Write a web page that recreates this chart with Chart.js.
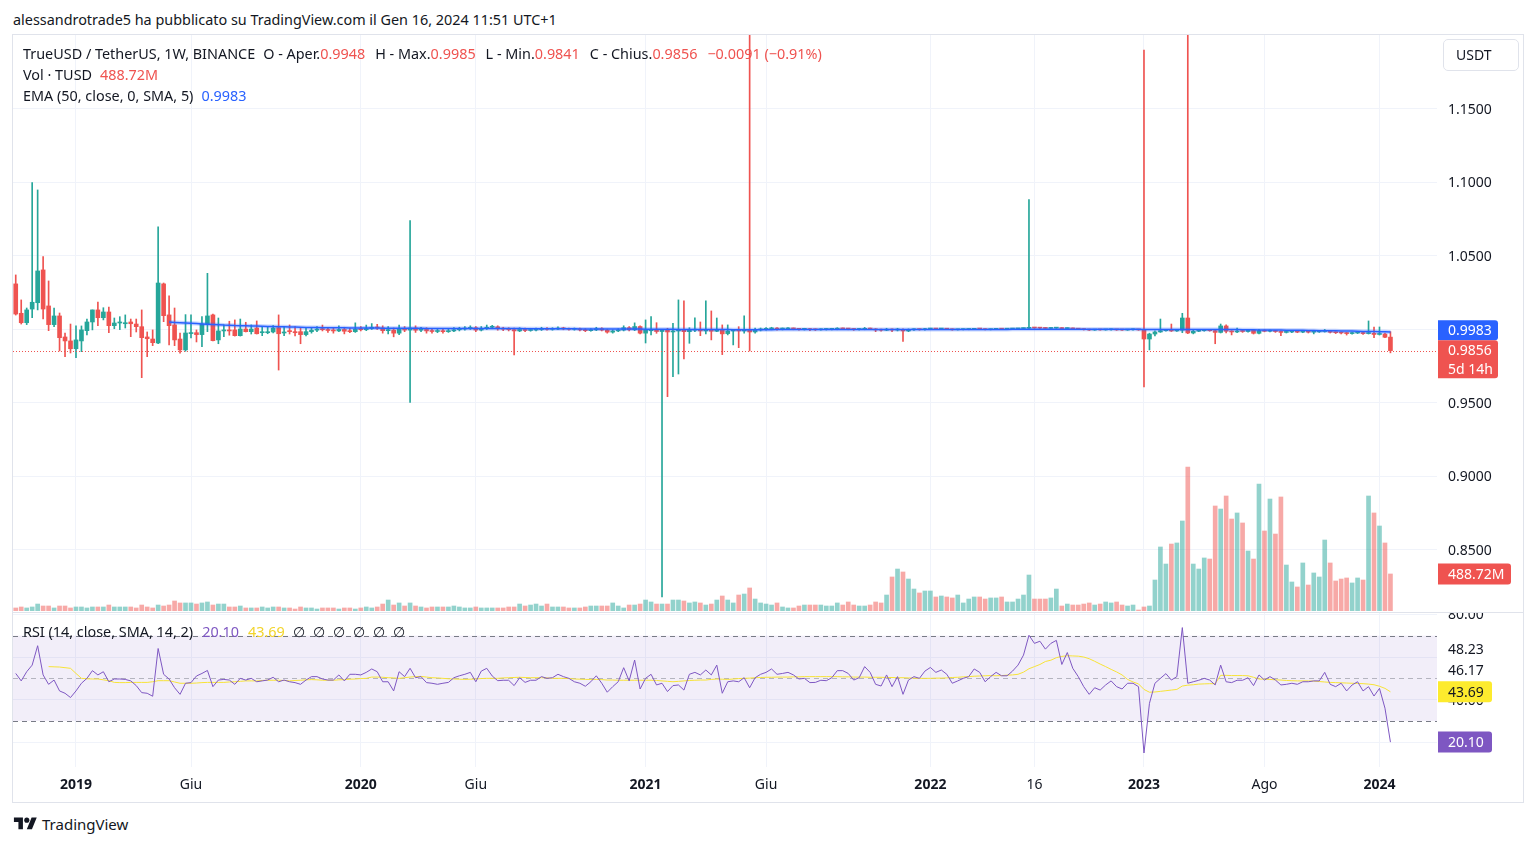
<!DOCTYPE html>
<html lang="it">
<head>
<meta charset="utf-8">
<title>TrueUSD / TetherUS 1W</title>
<script src="https://cdn.jsdelivr.net/npm/chart.js@4.4.1/dist/chart.umd.min.js"></script>
<style>
  html,body{margin:0;padding:0;background:#fff;}
  body{width:1536px;height:846px;position:relative;overflow:hidden;font-family:"Noto Sans",Roboto,Arial,sans-serif;color:#131722;}
  .abs{position:absolute;white-space:nowrap;}
  #hdr{left:13px;top:10px;font-size:14.4px;line-height:19px;}
  #frame{position:absolute;left:12px;top:34px;width:1510px;height:767px;border:1px solid #e0e3eb;}
  #sep{position:absolute;left:13px;top:612px;width:1510px;height:1px;background:#e0e3eb;}
  .leg{left:23px;font-size:14.4px;line-height:19px;}
  .k{margin-left:10px;}
  .r{color:#ef5350;}
  .b{color:#2962ff;}
  .p{color:#7e57c2;}
  .y{color:#f2d42b;}
  #usdt{position:absolute;left:1443px;top:39px;width:62px;height:30px;padding-left:12px;border:1px solid #e0e3eb;border-radius:5px;font-size:14px;line-height:30px;text-align:left;}
  canvas{position:absolute;}
  #logo{left:13px;top:814px;font-size:15px;line-height:20px;display:flex;align-items:center;}
</style>
</head>
<body>
<div id="hdr" class="abs">alessandrotrade5 ha pubblicato su TradingView.com il Gen 16, 2024 11:51 UTC+1</div>
<div id="frame"></div>
<canvas id="main" width="1510" height="576" style="left:13px;top:35px;width:1510px;height:576px"></canvas>
<div id="sep"></div>
<canvas id="rsi" width="1510" height="189" style="left:13px;top:613px;width:1510px;height:189px"></canvas>
<div id="l1" class="abs leg" style="top:44px"></div>
<div id="l2" class="abs leg" style="top:65px"></div>
<div id="l3" class="abs leg" style="top:86px"></div>
<div id="l4" class="abs leg" style="top:622px"></div>
<div id="usdt">USDT</div>
<div id="logo" class="abs"><svg width="25" height="18" viewBox="0 0 36 28"><path d="M14 22H7V11H0V4h14v18zM28 22h-8l7.5-18h8L28 22z" fill="#131722"/><circle cx="20" cy="8" r="4" fill="#131722"/></svg><span style="margin-left:4px">TradingView</span></div>
<script>
// ---------------- DATA ----------------
const OPEN = [
1.0310,1.0110,1.0046,1.0139,1.0182,1.0405,1.0160,1.0033,1.0092,0.9949,
0.9922,0.9869,0.9922,0.9992,1.0051,1.0133,1.0080,1.0119,1.0026,1.0044,
1.0039,1.0051,1.0037,1.0019,0.9949,0.9935,0.9908,1.0310,1.0099,1.0031,
0.9935,0.9861,0.9972,0.9978,0.9965,1.0037,1.0099,0.9929,0.9990,0.9997,
0.9997,0.9958,1.0003,0.9985,1.0010,0.9978,0.9978,0.9983,1.0012,0.9976,
0.9992,0.9985,0.9985,0.9965,0.9985,0.9995,1.0003,0.9998,0.9993,0.9990,
1.0000,0.9988,0.9985,1.0002,0.9998,1.0006,1.0015,1.0010,0.9992,0.9996,
0.9975,1.0005,0.9996,1.0010,0.9995,1.0000,0.9990,0.9986,0.9990,0.9985,
0.9990,0.9998,1.0003,1.0007,1.0012,0.9996,1.0008,1.0015,1.0018,1.0005,
1.0002,0.9999,0.9990,1.0000,0.9993,0.9996,0.9999,1.0004,1.0001,1.0003,
1.0008,1.0004,1.0001,1.0003,0.9997,0.9992,0.9997,1.0005,0.9996,0.9982,
0.9990,0.9996,1.0012,0.9998,1.0020,0.9975,0.9992,0.9997,0.9986,0.9995,
0.9983,0.9990,0.9997,0.9985,0.9995,0.9999,0.9990,0.9997,0.9988,1.0001,
0.9972,0.9990,0.9997,0.9990,0.9995,0.9983,0.9997,1.0001,1.0004,1.0007,
1.0003,1.0004,1.0006,1.0004,1.0001,1.0002,0.9999,0.9998,1.0000,1.0001,
1.0002,1.0005,1.0004,1.0003,1.0000,1.0001,1.0006,1.0003,0.9997,0.9995,
1.0001,0.9996,1.0001,0.9990,0.9998,1.0000,0.9999,1.0003,1.0005,1.0003,
1.0004,1.0002,0.9998,0.9999,1.0000,1.0001,1.0004,1.0003,0.9999,1.0001,
1.0003,1.0002,1.0003,1.0004,1.0006,1.0008,1.0011,1.0010,1.0009,1.0007,
1.0009,1.0011,1.0006,1.0008,1.0004,1.0002,0.9999,0.9996,0.9998,0.9997,
0.9998,0.9999,0.9997,0.9996,0.9998,0.9999,0.9997,0.9935,0.9969,0.9983,
0.9992,0.9995,0.9990,0.9995,1.0078,0.9976,0.9988,0.9992,0.9995,0.9992,
0.9980,1.0024,0.9988,0.9983,0.9990,0.9986,0.9994,0.9974,0.9993,0.9988,
0.9991,0.9986,0.9980,0.9983,0.9985,0.9982,0.9985,0.9982,0.9984,0.9986,
0.9990,0.9981,0.9978,0.9976,0.9972,0.9976,0.9979,0.9972,0.9974,0.9966,
0.9969,0.9948];
const HIGH = [
1.0371,1.0201,1.0146,1.0999,1.0949,1.0495,1.0330,1.0146,1.0112,0.9976,
1.0037,1.0024,1.0024,1.0071,1.0133,1.0187,1.0148,1.0153,1.0078,1.0087,
1.0099,1.0071,1.0071,1.0133,0.9983,0.9997,1.0699,1.0316,1.0228,1.0146,
0.9976,1.0101,1.0099,0.9997,1.0087,1.0382,1.0105,1.0078,1.0031,1.0056,
1.0065,1.0071,1.0049,1.0031,1.0058,1.0019,1.0019,1.0026,1.0099,1.0019,
1.0031,1.0019,1.0012,1.0008,1.0010,1.0020,1.0030,1.0012,1.0008,1.0025,
1.0015,1.0010,1.0045,1.0020,1.0030,1.0040,1.0035,1.0025,1.0020,1.0010,
1.0030,1.0020,1.0741,1.0025,1.0015,1.0012,1.0005,1.0005,1.0002,1.0005,
1.0012,1.0015,1.0020,1.0025,1.0020,1.0020,1.0030,1.0028,1.0025,1.0015,
1.0012,1.0010,1.0012,1.0010,1.0008,1.0010,1.0015,1.0012,1.0012,1.0018,
1.0015,1.0010,1.0010,1.0010,1.0005,1.0005,1.0015,1.0012,1.0002,0.9998,
1.0005,1.0025,1.0020,1.0045,1.0024,1.0065,1.0087,1.0046,1.0001,1.0008,
1.0042,1.0201,1.0194,1.0012,1.0080,1.0051,1.0194,1.0126,1.0078,1.0031,
1.0031,1.0001,1.0019,1.0092,1.2100,1.0010,1.0010,1.0012,1.0015,1.0012,
1.0010,1.0012,1.0010,1.0008,1.0008,1.0006,1.0004,1.0005,1.0006,1.0008,
1.0012,1.0010,1.0008,1.0006,1.0006,1.0014,1.0010,1.0006,1.0003,1.0008,
1.0005,1.0008,1.0005,1.0004,1.0005,1.0004,1.0008,1.0008,1.0007,1.0007,
1.0006,1.0004,1.0002,1.0003,1.0003,1.0006,1.0006,1.0005,1.0003,1.0005,
1.0005,1.0005,1.0006,1.0008,1.0010,1.0884,1.0014,1.0013,1.0012,1.0012,
1.0014,1.0013,1.0011,1.0010,1.0007,1.0004,1.0002,1.0000,1.0000,1.0001,
1.0002,1.0001,1.0000,1.0001,1.0002,1.0001,1.1901,0.9975,0.9990,1.0071,
0.9999,1.0037,1.0001,1.0110,1.2100,0.9995,0.9997,1.0000,0.9999,0.9996,
1.0037,1.0031,0.9992,1.0010,0.9994,0.9999,0.9999,1.0001,0.9998,0.9996,
0.9994,0.9990,0.9988,0.9990,0.9989,0.9990,0.9988,0.9988,0.9990,1.0000,
0.9993,0.9985,0.9983,0.9980,0.9982,0.9985,0.9982,1.0058,1.0017,1.0017,
0.9975,0.9985];
const LOW = [
1.0098,1.0037,1.0033,1.0080,1.0133,1.0071,0.9992,1.0019,0.9854,0.9815,
0.9840,0.9808,0.9849,0.9963,0.9997,1.0026,1.0065,0.9978,1.0005,0.9999,
1.0010,0.9951,0.9983,0.9672,0.9815,0.9890,0.9903,1.0053,0.9895,0.9890,
0.9838,0.9852,0.9942,0.9915,0.9883,0.9985,0.9922,0.9903,0.9951,0.9961,
0.9955,0.9955,0.9983,0.9969,0.9969,0.9958,0.9971,0.9976,0.9724,0.9958,
0.9969,0.9956,0.9903,0.9956,0.9975,0.9985,0.9990,0.9980,0.9975,0.9985,
0.9970,0.9978,0.9980,0.9990,0.9992,1.0000,1.0000,0.9975,0.9970,0.9950,
0.9965,0.9985,0.9503,0.9980,0.9985,0.9975,0.9975,0.9978,0.9975,0.9980,
0.9985,0.9990,0.9995,1.0000,0.9985,0.9990,1.0000,1.0005,0.9995,0.9992,
0.9990,0.9827,0.9985,0.9985,0.9988,0.9990,0.9993,0.9995,0.9995,0.9998,
0.9998,0.9995,0.9995,0.9990,0.9985,0.9988,0.9992,0.9990,0.9975,0.9975,
0.9985,0.9990,0.9990,0.9992,0.9969,0.9908,0.9963,0.9974,0.8180,0.9543,
0.9679,0.9697,0.9799,0.9906,0.9985,0.9958,0.9969,0.9929,0.9985,0.9829,
0.9963,0.9895,0.9876,0.9974,0.9854,0.9975,0.9990,0.9995,0.9998,0.9995,
0.9997,1.0000,0.9998,0.9995,0.9996,0.9992,0.9993,0.9995,0.9996,0.9997,
0.9998,1.0000,0.9998,0.9994,0.9996,0.9998,0.9998,0.9985,0.9988,0.9992,
0.9985,0.9990,0.9918,0.9985,0.9994,0.9995,0.9996,1.0000,1.0000,1.0001,
0.9999,0.9995,0.9996,0.9997,0.9998,0.9999,1.0000,0.9997,0.9997,0.9999,
1.0000,1.0000,1.0001,1.0002,1.0004,1.0005,1.0007,1.0006,1.0004,1.0005,
1.0007,1.0003,1.0004,1.0002,0.9999,0.9996,0.9993,0.9994,0.9995,0.9995,
0.9996,0.9994,0.9993,0.9994,0.9996,0.9994,0.9609,0.9861,0.9956,0.9980,
0.9988,0.9986,0.9986,0.9978,0.9972,0.9970,0.9985,0.9988,0.9988,0.9903,
0.9976,0.9976,0.9963,0.9978,0.9980,0.9982,0.9969,0.9970,0.9984,0.9984,
0.9980,0.9958,0.9976,0.9979,0.9978,0.9978,0.9976,0.9970,0.9980,0.9982,
0.9976,0.9972,0.9970,0.9962,0.9968,0.9972,0.9966,0.9969,0.9944,0.9962,
0.9944,0.9841];
const CLOSE = [
1.0105,1.0046,1.0133,1.0185,1.0398,1.0139,1.0033,1.0092,0.9944,0.9922,
0.9869,0.9929,0.9997,1.0051,1.0133,1.0080,1.0119,1.0026,1.0044,1.0051,
1.0046,1.0039,1.0019,0.9944,0.9937,0.9910,1.0316,1.0094,1.0026,0.9929,
0.9861,0.9976,0.9976,0.9965,1.0037,1.0092,0.9924,0.9990,0.9997,0.9990,
0.9958,1.0003,0.9985,1.0003,0.9971,0.9983,0.9983,1.0010,0.9971,0.9983,
0.9985,0.9978,0.9965,0.9985,0.9995,1.0003,0.9998,0.9993,0.9990,1.0000,
0.9988,0.9985,1.0002,0.9998,1.0006,1.0015,1.0010,0.9992,0.9996,0.9975,
1.0005,0.9996,1.0010,0.9995,1.0000,0.9990,0.9986,0.9990,0.9985,0.9990,
0.9998,1.0003,1.0007,1.0012,0.9996,1.0008,1.0015,1.0018,1.0005,1.0002,
0.9999,0.9990,1.0000,0.9993,0.9996,0.9999,1.0004,1.0001,1.0003,1.0008,
1.0004,1.0001,1.0003,0.9997,0.9992,0.9997,1.0005,0.9996,0.9982,0.9990,
0.9996,1.0012,0.9998,1.0020,0.9975,0.9995,0.9997,0.9986,0.9995,0.9983,
0.9990,0.9997,0.9985,0.9995,0.9999,0.9990,0.9997,0.9988,0.9997,0.9970,
0.9990,0.9997,0.9990,0.9995,0.9983,0.9997,1.0001,1.0004,1.0007,1.0003,
1.0004,1.0006,1.0004,1.0001,1.0002,0.9999,0.9998,1.0000,1.0001,1.0002,
1.0005,1.0004,1.0003,1.0000,1.0001,1.0006,1.0003,0.9997,0.9995,1.0001,
0.9996,1.0001,0.9990,0.9998,1.0000,0.9999,1.0003,1.0005,1.0003,1.0004,
1.0002,0.9998,0.9999,1.0000,1.0001,1.0004,1.0003,0.9999,1.0001,1.0003,
1.0002,1.0003,1.0004,1.0006,1.0008,1.0011,1.0010,1.0009,1.0007,1.0009,
1.0011,1.0006,1.0008,1.0004,1.0002,0.9999,0.9996,0.9998,0.9997,0.9998,
0.9999,0.9997,0.9996,0.9998,0.9999,0.9997,0.9935,0.9969,0.9983,0.9992,
0.9995,0.9990,0.9995,1.0078,0.9976,0.9988,0.9992,0.9995,0.9992,0.9980,
1.0024,0.9988,0.9983,0.9990,0.9986,0.9994,0.9974,0.9993,0.9988,0.9991,
0.9986,0.9980,0.9983,0.9985,0.9982,0.9985,0.9982,0.9984,0.9986,0.9990,
0.9981,0.9978,0.9976,0.9972,0.9976,0.9979,0.9972,0.9974,0.9966,0.9969,
0.9947,0.9856];
// weekly volume, millions of TUSD
const VOLUME = [
40,53,40,53,92,66,66,40,66,66,
40,53,53,40,53,53,53,79,53,53,
53,53,40,79,53,40,79,66,79,132,
106,106,106,92,106,119,79,92,92,53,
53,66,40,40,40,53,40,53,53,40,
40,26,53,40,40,26,40,40,40,26,
40,40,26,40,53,40,53,92,145,79,
106,66,106,66,53,40,53,53,53,53,
66,53,40,40,53,40,40,40,40,40,
53,53,92,66,79,92,66,92,53,53,
53,40,40,40,53,66,66,66,66,106,
66,40,79,79,92,145,119,92,92,92,
145,145,132,106,119,106,79,92,145,198,
145,106,211,224,304,158,106,92,79,106,
53,40,40,66,79,79,79,79,66,66,
106,79,119,79,66,66,79,119,106,211,
449,554,515,422,290,238,264,264,185,198,
185,172,211,106,158,185,185,158,172,172,
185,119,119,158,211,475,158,158,158,172,
290,66,92,79,79,92,106,79,92,119,
106,119,79,66,79,13,53,66,409,845,
620,884,898,1188,1901,620,554,700,686,1386,
1346,1518,1214,1294,1162,792,686,1676,1056,1478,
1016,1505,607,383,317,634,343,502,449,937,
634,396,422,436,370,436,409,1518,1294,1122,
898,488.72];
const EMA = [
null,null,null,null,null,null,null,null,null,null,
null,null,null,null,null,null,null,null,null,null,
null,null,null,null,null,null,null,null,1.0050,1.0048,
1.0046,1.0044,1.0042,1.0040,1.0038,1.0036,1.0034,1.0032,1.0030,1.0029,
1.0027,1.0026,1.0025,1.0024,1.0023,1.0022,1.0021,1.0020,1.0019,1.0018,
1.0017,1.0016,1.0015,1.0014,1.0013,1.0013,1.0012,1.0012,1.0011,1.0011,
1.0011,1.0010,1.0010,1.0010,1.0010,1.0010,1.0010,1.0009,1.0009,1.0009,
1.0008,1.0008,1.0008,1.0008,1.0008,1.0007,1.0007,1.0007,1.0006,1.0006,
1.0006,1.0006,1.0006,1.0006,1.0006,1.0006,1.0006,1.0007,1.0007,1.0007,
1.0006,1.0006,1.0006,1.0005,1.0005,1.0005,1.0005,1.0005,1.0005,1.0005,
1.0005,1.0005,1.0005,1.0004,1.0004,1.0004,1.0004,1.0004,1.0003,1.0003,
1.0003,1.0003,1.0003,1.0003,1.0003,1.0002,1.0002,1.0002,1.0001,1.0001,
1.0001,1.0000,1.0000,1.0000,1.0000,1.0000,0.9999,0.9999,0.9999,0.9999,
0.9999,0.9998,0.9998,0.9998,0.9998,0.9998,0.9998,0.9998,0.9998,0.9999,
0.9999,0.9999,0.9999,0.9999,0.9999,0.9999,0.9999,0.9999,0.9999,0.9999,
1.0000,1.0000,1.0000,1.0000,1.0000,1.0000,1.0000,1.0000,1.0000,1.0000,
1.0000,1.0000,0.9999,0.9999,0.9999,0.9999,0.9999,1.0000,1.0000,1.0000,
1.0000,1.0000,1.0000,1.0000,1.0000,1.0000,1.0000,1.0000,1.0000,1.0000,
1.0000,1.0000,1.0001,1.0001,1.0001,1.0001,1.0001,1.0002,1.0002,1.0002,
1.0002,1.0002,1.0002,1.0002,1.0002,1.0002,1.0002,1.0001,1.0001,1.0001,
1.0001,1.0001,1.0001,1.0001,1.0001,1.0001,1.0000,1.0000,0.9999,0.9999,
0.9999,0.9999,0.9999,1.0000,1.0000,1.0000,1.0000,1.0000,1.0000,0.9999,
1.0000,0.9999,0.9999,0.9999,0.9998,0.9998,0.9998,0.9997,0.9997,0.9997,
0.9996,0.9996,0.9995,0.9995,0.9994,0.9994,0.9993,0.9993,0.9992,0.9992,
0.9991,0.9991,0.9990,0.9989,0.9989,0.9988,0.9987,0.9986,0.9986,0.9985,
0.9984,0.9983];
const RSI = [
52.3,48.8,53.1,56.2,65.3,51.6,47.2,49.2,44.1,43.0,
41.0,44.1,47.7,50.0,53.6,51.6,53.1,48.4,49.7,49.7,
49.5,48.8,46.6,43.3,43.0,41.6,64.0,51.9,49.7,45.6,
42.5,47.7,48.0,51.1,52.3,53.7,46.1,49.2,49.5,49.2,
47.2,50.0,49.2,50.0,48.4,48.8,49.2,50.5,48.4,49.2,
48.4,48.0,47.2,49.2,50.8,50.8,49.7,49.2,49.2,51.6,
48.8,51.9,51.9,51.6,52.8,54.4,53.1,48.4,48.4,44.1,
53.1,50.8,54.7,50.3,50.8,48.0,47.7,47.2,47.7,48.1,
50.3,51.2,51.9,52.8,48.4,53.4,54.7,51.1,48.9,49.1,
49.1,46.6,50.3,48.1,49.1,49.1,50.8,50.0,50.3,51.9,
50.8,50.0,48.4,47.7,46.3,48.4,51.2,47.7,43.5,46.1,
48.4,55.0,48.8,58.6,45.0,50.0,51.9,46.9,47.7,43.8,
46.6,46.9,44.5,51.9,52.8,51.6,53.9,51.6,56.2,43.0,
48.4,48.8,48.4,50.3,45.6,50.3,51.9,52.8,54.4,51.9,
52.3,52.8,51.6,49.7,50.0,48.0,48.1,49.1,48.9,50.3,
53.6,53.6,52.3,49.2,50.3,55.5,52.8,47.2,46.4,51.6,
46.1,50.8,42.5,49.2,50.8,50.0,53.4,55.1,52.8,53.9,
51.9,47.7,48.8,50.0,50.8,54.4,52.8,48.4,50.8,52.8,
51.2,51.2,53.4,56.2,60.9,70.2,66.4,67.4,63.7,66.4,
67.8,56.5,62.1,54.7,50.8,46.1,42.5,45.6,44.5,46.9,
48.8,46.1,45.0,47.7,47.7,46.1,15.0,38.3,47.7,50.0,
52.2,49.2,50.8,73.8,47.7,48.4,49.1,50.0,49.2,46.9,
56.2,48.4,48.0,49.1,49.1,50.3,46.6,51.6,49.2,50.8,
49.2,46.9,47.2,47.7,47.2,48.4,48.4,48.8,48.8,52.8,
47.2,46.1,47.7,44.1,46.9,48.4,44.1,46.1,41.7,45.3,
36.0,20.10];
const RSI_MA = [
null,null,null,null,null,null,55.5,55.4,55.3,55.0,
54.7,52.3,50.0,49.8,49.7,49.7,49.3,48.9,48.1,48.0,
48.0,48.1,48.1,48.1,48.1,48.4,48.9,48.9,48.9,48.3,
47.7,47.7,47.7,47.8,48.0,48.1,48.1,48.1,48.1,48.3,
48.4,48.6,48.8,48.8,48.8,49.0,49.1,49.1,49.1,49.0,
48.8,49.0,49.1,49.3,49.4,49.3,49.1,49.1,49.1,49.3,
49.4,49.6,49.7,49.9,50.0,50.6,50.6,50.5,50.3,50.2,
50.0,50.3,50.6,50.8,50.9,50.6,50.3,50.2,50.0,49.8,
49.7,49.6,49.5,49.6,49.7,49.9,50.0,50.0,50.0,50.2,
50.3,50.4,50.5,50.4,50.3,50.3,50.3,50.2,50.0,50.0,
50.0,49.9,49.7,49.6,49.5,49.5,49.5,49.4,49.2,49.2,
49.1,49.1,49.1,49.1,49.1,49.1,49.1,49.0,48.8,48.6,
48.4,48.6,48.8,49.0,49.1,49.2,49.2,49.5,49.7,49.6,
49.5,49.7,49.9,50.0,50.1,50.3,50.4,50.5,50.5,50.6,
50.6,50.6,50.7,50.7,50.8,50.8,50.8,50.8,50.8,50.8,
50.8,50.7,50.7,50.6,50.6,50.6,50.5,50.5,50.5,50.4,
50.4,50.3,50.3,50.2,50.1,50.0,50.0,50.0,50.1,50.1,
50.2,50.4,50.5,50.7,50.8,51.0,51.1,51.2,51.3,51.2,
51.3,51.5,51.6,51.9,52.9,54.5,55.5,56.5,57.9,58.5,
59.7,60.3,60.6,60.5,60.4,60.0,59.2,58.0,56.7,55.5,
54.2,53.0,51.6,49.5,48.3,47.4,44.8,43.5,43.6,43.9,
44.2,44.5,44.8,46.4,46.8,47.0,47.3,47.4,47.5,47.5,
51.4,51.4,51.3,51.3,51.3,51.2,50.5,49.7,49.6,49.5,
49.3,49.2,49.0,48.9,48.8,48.8,48.8,48.7,48.5,48.3,
48.1,48.0,47.9,47.8,47.7,47.6,47.5,47.3,47.0,46.3,
45.3,43.69];
const PRICE_TICKS = [0.85, 0.90, 0.95, 1.00, 1.05, 1.10, 1.15];
const RSI_TICKS = [20, 40, 60, 80];
const RSI_LEVELS = [70, 50, 30];
const TIME_INDEX = [11, 32, 63, 84, 115, 137, 167, 186, 206, 228, 249];
const TIME_TEXT  = ['2019','Giu','2020','Giu','2021','Giu','2022','16','2023','Ago','2024'];
const SLOTS = 260; // visible bar slots (incl. empty right margin)

// ---------------- SETUP ----------------
const FONT = '"Noto Sans", Roboto, Arial, sans-serif';
Chart.defaults.font.family = FONT;
const N = CLOSE.length, L = N - 1;
const cats = Array.from({length: SLOTS}, (_, i) => String(i));
const UP = '#26a69a', DN = '#ef5350';
const isUp = CLOSE.map((c, i) => c >= OPEN[i]);
const candleCol = isUp.map(u => u ? UP : DN);
const volCol = isUp.map(u => u ? 'rgba(38,166,154,0.5)' : 'rgba(239,83,80,0.5)');
const gridCol = '#f0f3fa';
const xGrid = c => TIME_INDEX.includes(c.index) ? gridCol : 'rgba(0,0,0,0)';
const TY = 1; // text vertical nudge for canvas labels

// legends
const f4 = v => v.toFixed(4);
const chg = CLOSE[L] - CLOSE[L - 1];
const sgn = v => (v < 0 ? '\u2212' : '+');
document.getElementById('l1').innerHTML =
  'TrueUSD / TetherUS, 1W, BINANCE' +
  '<span class="k" style="margin-left:8px">O - Aper.</span><span class="r">' + f4(OPEN[L]) + '</span>' +
  '<span class="k">H - Max.</span><span class="r">' + f4(HIGH[L]) + '</span>' +
  '<span class="k">L - Min.</span><span class="r">' + f4(LOW[L]) + '</span>' +
  '<span class="k">C - Chius.</span><span class="r">' + f4(CLOSE[L]) + '</span>' +
  '<span class="k r">' + sgn(chg) + Math.abs(chg).toFixed(4) + ' (' + sgn(chg) + Math.abs(chg / CLOSE[L - 1] * 100).toFixed(2) + '%)</span>';
document.getElementById('l2').innerHTML = 'Vol \u00b7 TUSD<span class="r" style="margin-left:8px">' + VOLUME[L].toFixed(2) + 'M</span>';
document.getElementById('l3').innerHTML = 'EMA (50, close, 0, SMA, 5)<span class="b" style="margin-left:8px">' + f4(EMA[L]) + '</span>';
document.getElementById('l4').innerHTML = 'RSI (14, close, SMA, 14, 2)<span class="p" style="margin-left:9px">' + RSI[L].toFixed(2) + '</span>' +
  '<span class="y" style="margin-left:9px">' + RSI_MA[L].toFixed(2) + '</span>' +
  '<span style="margin-left:8px">\u2205</span>' +
  '<span style="margin-left:8px">\u2205</span>'.repeat(5);

function tag(ctx, x, yc, w, h, bg, fg, lines) {
  ctx.save();
  ctx.fillStyle = bg;
  ctx.beginPath();
  if (ctx.roundRect) ctx.roundRect(x, yc - h / 2, w, h, [0, 3, 3, 0]); else ctx.rect(x, yc - h / 2, w, h);
  ctx.fill();
  ctx.fillStyle = fg;
  ctx.font = '14px ' + FONT;
  ctx.textBaseline = 'middle';
  ctx.textAlign = 'left';
  const lh = h / lines.length;
  lines.forEach((t, k) => ctx.fillText(t, x + 10, yc - h / 2 + lh * (k + 0.5) + TY));
  ctx.restore();
}

const mainPlugin = {
  id: 'mainDeco',
  afterDatasetsDraw(chart) {
    const ctx = chart.ctx, ca = chart.chartArea, ys = chart.scales.y;
    const py = Math.round(ys.getPixelForValue(CLOSE[L])) + 0.5;
    ctx.save();
    ctx.strokeStyle = DN; ctx.lineWidth = 1; ctx.setLineDash([1, 2]);
    ctx.beginPath(); ctx.moveTo(ca.left, py); ctx.lineTo(ca.right, py); ctx.stroke();
    ctx.restore();
  },
  afterDraw(chart) {
    const ctx = chart.ctx, ca = chart.chartArea, ys = chart.scales.y, yv = chart.scales.yv;
    ctx.save();
    ctx.font = '14px ' + FONT; ctx.fillStyle = '#131722';
    ctx.textBaseline = 'middle'; ctx.textAlign = 'left';
    PRICE_TICKS.forEach(v => ctx.fillText(f4(v), ca.right + 11, ys.getPixelForValue(v) + TY));
    ctx.restore();
    const yPrice = ys.getPixelForValue(CLOSE[L]);
    const redTop = yPrice - 10.5;
    const yEma = Math.min(ys.getPixelForValue(EMA[L]), redTop - 10);
    tag(ctx, ca.right + 1, yEma, 60, 20, '#2962ff', '#fff', [f4(EMA[L])]);
    tag(ctx, ca.right + 1, redTop + 19, 60, 38, DN, '#fff', [f4(CLOSE[L]), '5d 14h']);
    tag(ctx, ca.right + 1, yv.getPixelForValue(VOLUME[L]), 73, 21, DN, '#fff', [VOLUME[L].toFixed(2) + 'M']);
  }
};

new Chart(document.getElementById('main'), {
  type: 'bar',
  data: {
    labels: cats,
    datasets: [
      {type: 'line', data: EMA, yAxisID: 'y', borderColor: '#2962ff', borderWidth: 1.5, pointRadius: 0, tension: 0, order: 0},
      {type: 'line', data: EMA, yAxisID: 'y', borderColor: 'rgba(41,98,255,0.28)', borderWidth: 4, pointRadius: 0, tension: 0, order: 0.5},
      {data: OPEN.map((o, i) => [o, CLOSE[i]]), yAxisID: 'y', backgroundColor: candleCol, barThickness: 4, minBarLength: 1, grouped: false, order: 1},
      {data: LOW.map((l, i) => [l, HIGH[i]]), yAxisID: 'y', backgroundColor: candleCol, barThickness: 1, grouped: false, order: 2},
      {data: VOLUME, yAxisID: 'yv', backgroundColor: volCol, barThickness: 4, grouped: false, order: 3}
    ]
  },
  options: {
    responsive: false, animation: false, events: [],
    layout: {padding: 0},
    plugins: {legend: {display: false}, tooltip: {enabled: false}},
    scales: {
      x: {type: 'category', offset: true,
          grid: {offset: false, drawTicks: false, color: xGrid},
          ticks: {display: false, autoSkip: false}, border: {display: false},
          afterFit: s => { s.height = 0; }},
      y: {position: 'right', min: 0.8085, max: 1.2003,
          afterBuildTicks: s => { s.ticks = PRICE_TICKS.map(v => ({value: v})); },
          ticks: {display: false}, grid: {color: gridCol, drawTicks: false}, border: {display: false},
          afterFit: s => { s.width = 86; }},
      yv: {display: false, min: 0, max: 7603}
    }
  },
  plugins: [mainPlugin]
});

const rsiPlugin = {
  id: 'rsiDeco',
  beforeDatasetsDraw(chart) {
    const ctx = chart.ctx, ca = chart.chartArea, ys = chart.scales.y;
    ctx.save();
    const y70 = ys.getPixelForValue(RSI_LEVELS[0]), y30 = ys.getPixelForValue(RSI_LEVELS[2]);
    ctx.fillStyle = 'rgba(126,87,194,0.1)';
    ctx.fillRect(ca.left, y70, ca.right - ca.left, y30 - y70);
    ctx.lineWidth = 1; ctx.setLineDash([5, 4]);
    RSI_LEVELS.forEach((lv, k) => {
      const y = Math.round(ys.getPixelForValue(lv)) + 0.5;
      ctx.strokeStyle = k === 1 ? 'rgba(120,123,134,0.5)' : '#787b86';
      ctx.beginPath(); ctx.moveTo(ca.left, y); ctx.lineTo(ca.right, y); ctx.stroke();
    });
    ctx.restore();
  },
  afterDraw(chart) {
    const ctx = chart.ctx, ca = chart.chartArea, ys = chart.scales.y, xs = chart.scales.x;
    ctx.save();
    ctx.font = '14px ' + FONT; ctx.fillStyle = '#131722';
    ctx.textBaseline = 'middle'; ctx.textAlign = 'left';
    [[80, '80.00'], [40, '40.00'], [63.7, '48.23'], [53.9, '46.17']].forEach(([v, t]) =>
      ctx.fillText(t, ca.right + 11, ys.getPixelForValue(v) + TY));
    // time axis labels
    ctx.textAlign = 'center';
    TIME_INDEX.forEach((ix, k) => {
      const t = TIME_TEXT[k];
      ctx.font = (/^\d{4}$/.test(t) ? 'bold ' : '') + '14px ' + FONT;
      ctx.fillText(t, xs.getPixelForValue(ix), ca.bottom + 17 + TY);
    });
    ctx.restore();
    tag(ctx, ca.right + 1, ys.getPixelForValue(RSI_MA[L]), 54, 21, '#fdeb2e', '#131722', [RSI_MA[L].toFixed(2)]);
    tag(ctx, ca.right + 1, ys.getPixelForValue(RSI[L]), 54, 21, '#7e57c2', '#fff', [RSI[L].toFixed(2)]);
  }
};

new Chart(document.getElementById('rsi'), {
  type: 'line',
  data: {
    labels: cats,
    datasets: [
      {data: RSI, borderColor: '#7e57c2', borderWidth: 1, pointRadius: 0, tension: 0, order: 0},
      {data: RSI_MA, borderColor: '#f7e337', borderWidth: 1, pointRadius: 0, tension: 0, order: 1}
    ]
  },
  options: {
    responsive: false, animation: false, events: [],
    layout: {padding: 0},
    plugins: {legend: {display: false}, tooltip: {enabled: false}},
    scales: {
      x: {type: 'category', offset: true,
          grid: {offset: false, drawTicks: false, color: xGrid},
          ticks: {display: false, autoSkip: false}, border: {display: false},
          afterFit: s => { s.height = 35; }},
      y: {position: 'right', min: 8.43, max: 80.64,
          afterBuildTicks: s => { s.ticks = RSI_TICKS.map(v => ({value: v})); },
          ticks: {display: false}, grid: {color: gridCol, drawTicks: false}, border: {display: false},
          afterFit: s => { s.width = 86; }}
    }
  },
  plugins: [rsiPlugin]
});
</script>
</body>
</html>
